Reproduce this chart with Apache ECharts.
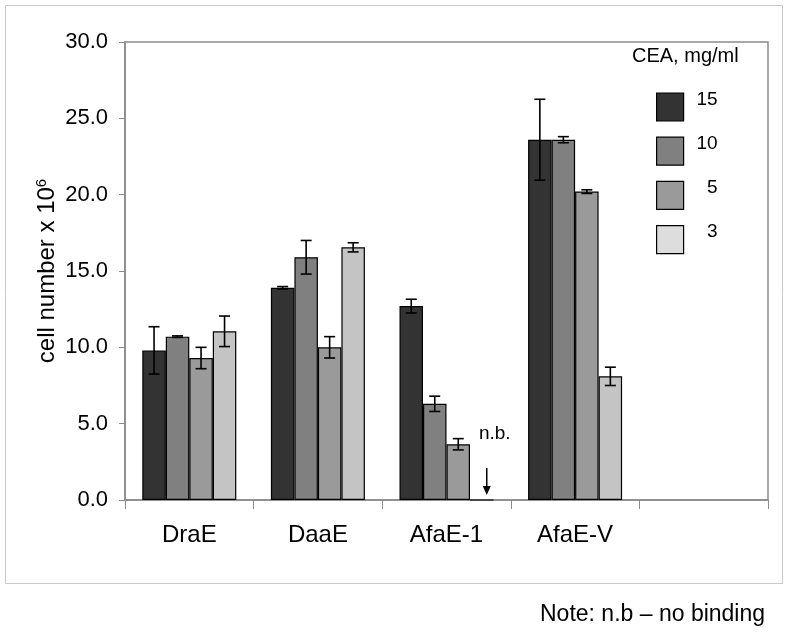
<!DOCTYPE html>
<html><head><meta charset="utf-8">
<script src="https://cdn.jsdelivr.net/npm/echarts@6/dist/echarts.min.js"></script>
<style>html,body{margin:0;padding:0;background:#fff}#c{width:788px;height:633px}</style>
</head><body><div id="c"></div>
<script>
const categories = ['DraE', 'DaaE', 'AfaE-1', 'AfaE-V', ''];
const seriesNames = ['15', '10', '5', '3'];
const values15 = [9.8, 13.9, 12.7, 23.6, null];
const values10 = [10.7, 15.9, 6.3, 23.6, null];
const values5 = [9.3, 10.0, 3.65, 20.2, null];
const values3 = [11.05, 16.55, 0, 8.1, null];
const err15 = [1.55, 0.08, 0.45, 2.65, null];
const err10 = [0.05, 1.1, 0.5, 0.2, null];
const err5 = [0.7, 0.7, 0.37, 0.12, null];
const err3 = [1.0, 0.3, null, 0.6, null];
const yTicks = [0, 5, 10, 15, 20, 25, 30];
const noBindingCategory = 'AfaE-1';

const FONT = '"Liberation Sans", Arial, sans-serif';
const colors = ['#333333', '#808080', '#9a9a9a', '#c4c4c4'];
const legendColors = ['#333333', '#808080', '#9a9a9a', '#dddddd'];
const BW = 23.5;
const allVals = [values15, values10, values5, values3];
const allErr = [err15, err10, err5, err3];

const chart = echarts.init(document.getElementById('c'));
const series = [];
seriesNames.forEach((n, s) => {
  series.push({
    name: n, type: 'bar', data: allVals[s], barWidth: BW, barGap: '0%',
    itemStyle: { color: colors[s], borderColor: '#000', borderWidth: 1.2 },
    silent: true, z: 2
  });
});
seriesNames.forEach((n, s) => {
  const data = [];
  allVals[s].forEach((v, i) => {
    if (v != null && allErr[s][i] != null) data.push([i, v - allErr[s][i], v + allErr[s][i]]);
  });
  series.push({
    type: 'custom', silent: true, z: 5,
    encode: { x: 0, y: [1, 2] },
    data: data,
    renderItem: function (params, api) {
      const i = api.value(0);
      const lo = api.coord([i, api.value(1)]);
      const hi = api.coord([i, api.value(2)]);
      const x = lo[0] + (s - 1.5) * BW;
      const cap = 5.5;
      const st = { stroke: '#000', lineWidth: 1.6 };
      return { type: 'group', children: [
        { type: 'line', shape: { x1: x, y1: lo[1], x2: x, y2: hi[1] }, style: st },
        { type: 'line', shape: { x1: x - cap, y1: lo[1], x2: x + cap, y2: lo[1] }, style: st },
        { type: 'line', shape: { x1: x - cap, y1: hi[1], x2: x + cap, y2: hi[1] }, style: st }
      ]};
    }
  });
});
// n.b. annotation
series.push({
  type: 'custom', silent: true, z: 6,
  data: [[categories.indexOf(noBindingCategory), 0]],
  renderItem: function (params, api) {
    const p = api.coord([api.value(0), api.value(1)]);
    const x = p[0] + 1.5 * BW + 5;
    const y = p[1];
    return { type: 'group', children: [
      { type: 'line', shape: { x1: x, y1: y - 32, x2: x, y2: y - 12 }, style: { stroke: '#000', lineWidth: 1.5 } },
      { type: 'polygon', shape: { points: [[x - 4, y - 14], [x + 4, y - 14], [x, y - 5]] }, style: { fill: '#000' } },
      { type: 'text', style: { text: 'n.b.', x: x + 8, y: y - 66, fill: '#000', font: '19px ' + FONT, textAlign: 'center', textVerticalAlign: 'middle' } }
    ]};
  }
});

chart.setOption({
  animation: false,
  textStyle: { fontFamily: FONT },
  graphic: [
    { type: 'rect', shape: { x: 5.5, y: 5.5, width: 777, height: 578 }, style: { fill: 'none', stroke: '#c8c8c8', lineWidth: 1 }, silent: true },
    { type: 'text', left: 632, top: 46, style: { text: 'CEA, mg/ml', font: '20px ' + FONT, fill: '#000' } },
    { type: 'text', left: 540, top: 603, style: { text: 'Note: n.b \u2013 no binding', font: '23px ' + FONT, fill: '#000' } }
  ],
  legend: {
    orient: 'vertical', left: 656, top: 90, padding: 0, itemWidth: 27, itemHeight: 28, itemGap: 12.6,
    icon: 'rect',
    data: seriesNames.map((n, s) => ({ name: n, itemStyle: { color: legendColors[s], borderColor: '#000', borderWidth: 1.2 } })),
    formatter: function (n) { return '{a|' + n + '}'; },
    textStyle: { rich: { a: { width: 22, align: 'right', fontSize: 19, color: '#000', padding: [-15, 0, 0, 0] } }, padding: [0, 0, 0, 7] }
  },
  grid: { left: 125, right: 20, top: 42, bottom: 133, show: true, borderColor: '#8a8a8a', borderWidth: 1.5 },
  xAxis: {
    type: 'category', data: categories,
    axisLine: { lineStyle: { color: '#8a8a8a', width: 1.5 } },
    axisTick: { show: true, length: 9, lineStyle: { color: '#8a8a8a' } },
    axisLabel: { fontSize: 24, color: '#000', margin: 23 }
  },
  yAxis: {
    type: 'value', min: yTicks[0], max: yTicks[yTicks.length - 1], interval: 5,
    splitLine: { show: false },
    axisLine: { show: true, lineStyle: { color: '#8a8a8a', width: 1.5 } },
    axisTick: { show: true, length: 6, lineStyle: { color: '#8a8a8a' } },
    axisLabel: { fontSize: 22, color: '#000', margin: 17, formatter: v => v.toFixed(1) },
    name: '{a|cell number x 10}{b|6}',
    nameLocation: 'middle', nameGap: 64, nameRotate: 90, nameMoveOverlap: false,
    nameTextStyle: { rich: { a: { fontSize: 24, color: '#000' }, b: { fontSize: 15, color: '#000', verticalAlign: 'top', padding: [0, 0, 12, 0] } } }
  },
  series: series
});
</script></body></html>
